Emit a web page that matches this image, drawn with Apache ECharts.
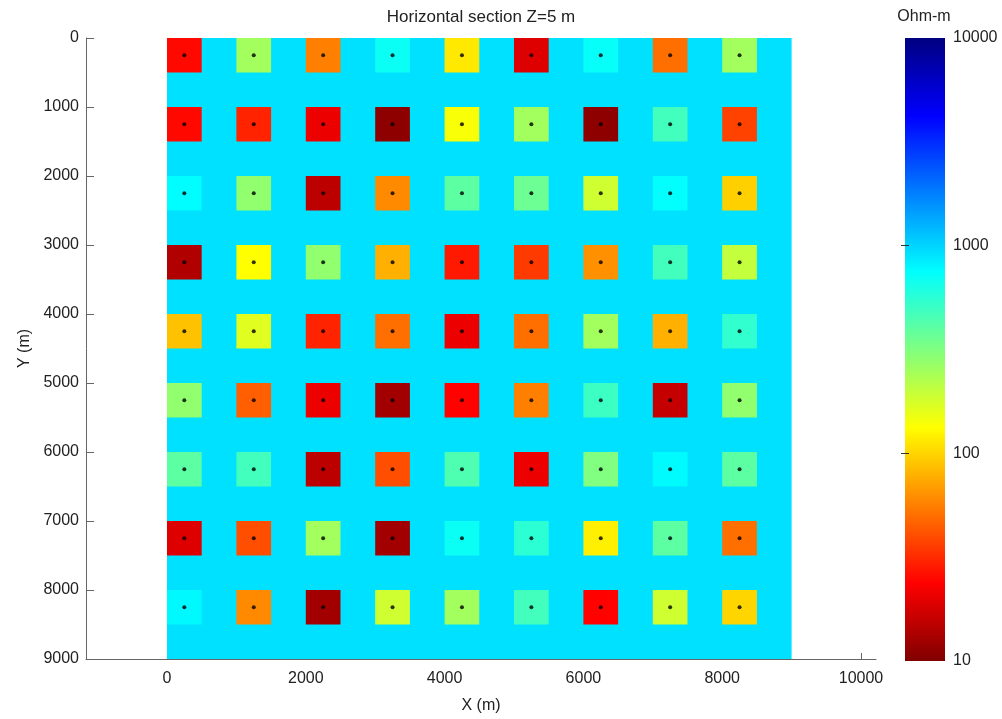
<!DOCTYPE html>
<html><head><meta charset="utf-8">
<script src="https://cdn.jsdelivr.net/npm/echarts@6/dist/echarts.min.js"></script>
<style>html,body{margin:0;padding:0;background:#fff}#c{width:1002px;height:719px}</style>
</head><body><div id="c"></div>
<script>
// ---- data ----
const cellX0 = [0, 1000, 2000, 3000, 4000, 5000, 6000, 7000, 8000];   // cell left edges (m)
const cellY0 = [0, 1000, 2000, 3000, 4000, 5000, 6000, 7000, 8000];   // cell top edges (m)
const cellWidth = 500;  // m
const domainExtent = [0, 9000]; // background model extent (m)
const backgroundRho = 920;      // Ohm-m
// resistivity of each block, rows = Y (top to bottom), columns = X (left to right)
const rhoRow0 = [25, 250, 56, 700, 115, 19, 720, 50, 250];
const rhoRow1 = [25, 30, 21, 11, 140, 250, 11, 480, 37];
const rhoRow2 = [760, 280, 15, 60, 400, 360, 185, 740, 97];
const rhoRow3 = [14, 133, 280, 78, 28, 35, 63, 480, 200];
const rhoRow4 = [88, 165, 30, 50, 21, 50, 250, 78, 540];
const rhoRow5 = [280, 45, 21, 12.6, 24, 56, 500, 16, 280];
const rhoRow6 = [400, 480, 15, 40, 440, 21, 316, 770, 400];
const rhoRow7 = [19, 40, 250, 12.6, 700, 560, 120, 400, 50];
const rhoRow8 = [780, 60, 12.6, 185, 250, 480, 24, 185, 100];
const rhoRows = [rhoRow0, rhoRow1, rhoRow2, rhoRow3, rhoRow4, rhoRow5, rhoRow6, rhoRow7, rhoRow8];
const xTickValues = [0, 2000, 4000, 6000, 8000, 10000];
const colorbarTicks = [10, 100, 1000, 10000];

// ---- build ----
const FONT = 'Liberation Sans, Arial, sans-serif';
const blocks = [[domainExtent[0], domainExtent[0], domainExtent[1], domainExtent[1], Math.log10(backgroundRho)]];
const dots = [];
rhoRows.forEach((row, j) => row.forEach((v, i) => {
  const x0 = cellX0[i], y0 = cellY0[j];
  blocks.push([x0, y0, x0 + cellWidth, y0 + cellWidth, Math.log10(v)]);
  dots.push([x0 + cellWidth / 2, y0 + cellWidth / 2]);
}));

const jet = ['#800000', '#ff0000', '#ff8000', '#ffff00', '#80ff80', '#00ffff', '#0080ff', '#0000ff', '#000080'];
const plain = v => String(Math.round(v));

const chart = echarts.init(document.getElementById('c'), null, {renderer: 'canvas'});
chart.setOption({
  animation: false,
  backgroundColor: '#fff',
  textStyle: {fontFamily: FONT},
  grid: [
    {left: 86, top: 38, width: 790, height: 621},
    {left: 905, top: 38, width: 40, height: 623}
  ],
  xAxis: [
    {gridIndex: 0, type: 'value', min: -1167, max: 10216, position: 'bottom',
     name: 'X (m)', nameLocation: 'middle', nameGap: 39,
     nameTextStyle: {fontSize: 16, color: '#222', fontFamily: FONT},
     axisLine: {show: true, onZero: false, lineStyle: {color: '#666', width: 1}},
     axisTick: {inside: true, length: 6, lineStyle: {color: '#666'}, customValues: xTickValues},
     axisLabel: {fontSize: 16, color: '#222', margin: 12, customValues: xTickValues, fontFamily: FONT, formatter: plain},
     splitLine: {show: false}},
    {gridIndex: 1, type: 'value', min: 0, max: 1, show: false}
  ],
  yAxis: [
    {gridIndex: 0, type: 'value', min: 0, max: 9000, interval: 1000, inverse: true, position: 'left',
     name: 'Y (m)', nameLocation: 'middle', nameGap: 53, nameRotate: 90,
     nameTextStyle: {fontSize: 16, color: '#222', fontFamily: FONT},
     axisLine: {show: true, onZero: false, lineStyle: {color: '#666', width: 1}},
     axisTick: {inside: true, length: 8, lineStyle: {color: '#666'}},
     axisLabel: {fontSize: 16, color: '#222', margin: 7, fontFamily: FONT, formatter: plain},
     splitLine: {show: false}},
    {gridIndex: 1, type: 'log', logBase: 10, min: 10, max: 10000, position: 'right', z: 5,
     axisLine: {show: false},
     axisTick: {inside: true, length: 4, lineStyle: {color: '#333'}, customValues: [100, 1000]},
     axisLabel: {fontSize: 16, color: '#222', margin: 8, fontFamily: FONT,
       customValues: colorbarTicks, formatter: plain},
     splitLine: {show: false}},
    {gridIndex: 1, type: 'log', logBase: 10, min: 10, max: 10000, position: 'left', z: 5,
     axisLine: {show: false},
     axisTick: {inside: true, length: 4, lineStyle: {color: '#333'}, customValues: [100, 1000]},
     axisLabel: {show: false},
     splitLine: {show: false}}
  ],
  visualMap: {
    type: 'continuous', show: false, min: 1, max: 4, dimension: 4, seriesIndex: [0],
    inRange: {color: jet}
  },
  graphic: [
    {type: 'text', x: 481, y: 17, style: {text: 'Horizontal section Z=5 m', font: '17px ' + FONT, fill: '#222', align: 'center', verticalAlign: 'middle'}},
    {type: 'text', x: 924, y: 17, style: {text: 'Ohm-m', font: '16px ' + FONT, fill: '#222', align: 'center', verticalAlign: 'middle'}}
  ],
  series: [
    {type: 'custom', xAxisIndex: 0, yAxisIndex: 0, data: blocks,
     dimensions: ['x0', 'y0', 'x1', 'y1', 'logRho'],
     encode: {x: [0, 2], y: [1, 3]},
     renderItem: (params, api) => {
       const p0 = api.coord([api.value(0), api.value(1)]);
       const p1 = api.coord([api.value(2), api.value(3)]);
       return {type: 'rect',
         shape: {x: Math.min(p0[0], p1[0]), y: Math.min(p0[1], p1[1]),
                 width: Math.abs(p1[0] - p0[0]), height: Math.abs(p1[1] - p0[1])},
         style: {fill: api.visual('color')}};
     }},
    {type: 'scatter', xAxisIndex: 0, yAxisIndex: 0, data: dots, symbolSize: 4,
     itemStyle: {color: '#000'}, z: 4},
    {type: 'custom', xAxisIndex: 1, yAxisIndex: 1, z: 1, data: [[0, colorbarTicks[3], 1, colorbarTicks[0]]],
     renderItem: (params, api) => {
       const p0 = api.coord([api.value(0), api.value(1)]);
       const p1 = api.coord([api.value(2), api.value(3)]);
       return {type: 'rect',
         shape: {x: p0[0], y: p0[1], width: p1[0] - p0[0], height: p1[1] - p0[1]},
         style: {fill: {type: 'linear', x: 0, y: 0, x2: 0, y2: 1, colorStops: [
           {offset: 0, color: '#000080'}, {offset: 0.125, color: '#0000ff'},
           {offset: 0.375, color: '#00ffff'}, {offset: 0.625, color: '#ffff00'},
           {offset: 0.875, color: '#ff0000'}, {offset: 1, color: '#800000'}]}}};
     }}
  ]
});
</script></body></html>
